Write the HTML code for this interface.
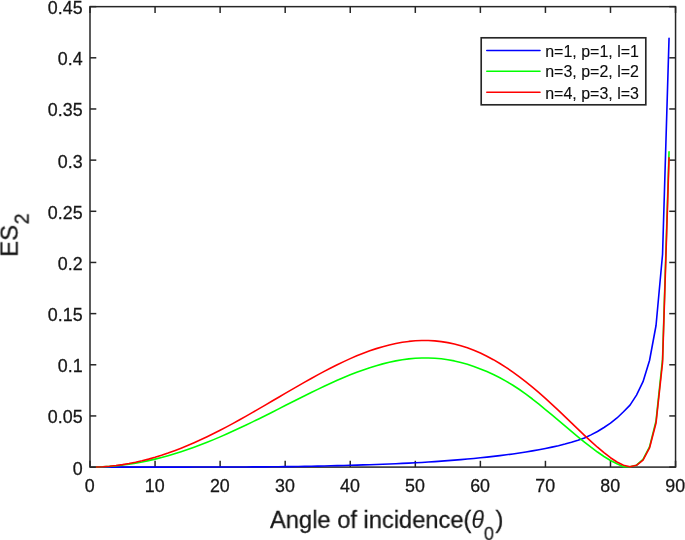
<!DOCTYPE html>
<html><head><meta charset="utf-8"><title>ES2 vs angle of incidence</title>
<style>
html,body{margin:0;padding:0;background:#fff;}
svg{display:block;will-change:transform;}
text{font-family:"Liberation Sans",Arial,Helvetica,sans-serif;fill:#161616;stroke:#161616;stroke-width:0.28px;}
.tk{font-size:18.6px;}
.lg{font-size:16.2px;fill:#0a0a0a;stroke:#0a0a0a;stroke-width:0.12px;}
.lbx{font-size:24.4px;}
.lby{font-size:23.7px;}
.sub{font-size:18.7px;}
.suby{font-size:19.4px;}
.it{font-style:italic;font-size:23.6px;stroke-width:0.1px;}
.tx{filter:opacity(1);}
</style></head><body>
<svg width="685" height="540" viewBox="0 0 685 540">
<rect x="0" y="0" width="685" height="540" fill="#ffffff"/>
<g>
<rect x="90.0" y="6.65" width="585.55" height="460.45" fill="none" stroke="#262626" stroke-width="1.5"/>
<line x1="90.00" y1="467.1" x2="90.00" y2="460.8" stroke="#262626" stroke-width="1.5"/>
<line x1="90.00" y1="6.65" x2="90.00" y2="12.95" stroke="#262626" stroke-width="1.5"/>
<line x1="155.06" y1="467.1" x2="155.06" y2="460.8" stroke="#262626" stroke-width="1.5"/>
<line x1="155.06" y1="6.65" x2="155.06" y2="12.95" stroke="#262626" stroke-width="1.5"/>
<line x1="220.12" y1="467.1" x2="220.12" y2="460.8" stroke="#262626" stroke-width="1.5"/>
<line x1="220.12" y1="6.65" x2="220.12" y2="12.95" stroke="#262626" stroke-width="1.5"/>
<line x1="285.18" y1="467.1" x2="285.18" y2="460.8" stroke="#262626" stroke-width="1.5"/>
<line x1="285.18" y1="6.65" x2="285.18" y2="12.95" stroke="#262626" stroke-width="1.5"/>
<line x1="350.24" y1="467.1" x2="350.24" y2="460.8" stroke="#262626" stroke-width="1.5"/>
<line x1="350.24" y1="6.65" x2="350.24" y2="12.95" stroke="#262626" stroke-width="1.5"/>
<line x1="415.31" y1="467.1" x2="415.31" y2="460.8" stroke="#262626" stroke-width="1.5"/>
<line x1="415.31" y1="6.65" x2="415.31" y2="12.95" stroke="#262626" stroke-width="1.5"/>
<line x1="480.37" y1="467.1" x2="480.37" y2="460.8" stroke="#262626" stroke-width="1.5"/>
<line x1="480.37" y1="6.65" x2="480.37" y2="12.95" stroke="#262626" stroke-width="1.5"/>
<line x1="545.43" y1="467.1" x2="545.43" y2="460.8" stroke="#262626" stroke-width="1.5"/>
<line x1="545.43" y1="6.65" x2="545.43" y2="12.95" stroke="#262626" stroke-width="1.5"/>
<line x1="610.49" y1="467.1" x2="610.49" y2="460.8" stroke="#262626" stroke-width="1.5"/>
<line x1="610.49" y1="6.65" x2="610.49" y2="12.95" stroke="#262626" stroke-width="1.5"/>
<line x1="675.55" y1="467.1" x2="675.55" y2="460.8" stroke="#262626" stroke-width="1.5"/>
<line x1="675.55" y1="6.65" x2="675.55" y2="12.95" stroke="#262626" stroke-width="1.5"/>
<line x1="90.0" y1="467.10" x2="96.3" y2="467.10" stroke="#262626" stroke-width="1.5"/>
<line x1="675.55" y1="467.10" x2="669.25" y2="467.10" stroke="#262626" stroke-width="1.5"/>
<line x1="90.0" y1="415.94" x2="96.3" y2="415.94" stroke="#262626" stroke-width="1.5"/>
<line x1="675.55" y1="415.94" x2="669.25" y2="415.94" stroke="#262626" stroke-width="1.5"/>
<line x1="90.0" y1="364.78" x2="96.3" y2="364.78" stroke="#262626" stroke-width="1.5"/>
<line x1="675.55" y1="364.78" x2="669.25" y2="364.78" stroke="#262626" stroke-width="1.5"/>
<line x1="90.0" y1="313.62" x2="96.3" y2="313.62" stroke="#262626" stroke-width="1.5"/>
<line x1="675.55" y1="313.62" x2="669.25" y2="313.62" stroke="#262626" stroke-width="1.5"/>
<line x1="90.0" y1="262.46" x2="96.3" y2="262.46" stroke="#262626" stroke-width="1.5"/>
<line x1="675.55" y1="262.46" x2="669.25" y2="262.46" stroke="#262626" stroke-width="1.5"/>
<line x1="90.0" y1="211.29" x2="96.3" y2="211.29" stroke="#262626" stroke-width="1.5"/>
<line x1="675.55" y1="211.29" x2="669.25" y2="211.29" stroke="#262626" stroke-width="1.5"/>
<line x1="90.0" y1="160.13" x2="96.3" y2="160.13" stroke="#262626" stroke-width="1.5"/>
<line x1="675.55" y1="160.13" x2="669.25" y2="160.13" stroke="#262626" stroke-width="1.5"/>
<line x1="90.0" y1="108.97" x2="96.3" y2="108.97" stroke="#262626" stroke-width="1.5"/>
<line x1="675.55" y1="108.97" x2="669.25" y2="108.97" stroke="#262626" stroke-width="1.5"/>
<line x1="90.0" y1="57.81" x2="96.3" y2="57.81" stroke="#262626" stroke-width="1.5"/>
<line x1="675.55" y1="57.81" x2="669.25" y2="57.81" stroke="#262626" stroke-width="1.5"/>
<line x1="90.0" y1="6.65" x2="96.3" y2="6.65" stroke="#262626" stroke-width="1.5"/>
<line x1="675.55" y1="6.65" x2="669.25" y2="6.65" stroke="#262626" stroke-width="1.5"/>
<polyline points="96.51,467.10 103.01,467.10 109.52,467.10 116.02,467.10 122.53,467.10 129.04,467.10 135.54,467.10 142.05,467.10 148.56,467.10 155.06,467.10 161.57,467.09 168.07,467.09 174.58,467.09 181.09,467.08 187.59,467.08 194.10,467.07 200.60,467.06 207.11,467.06 213.62,467.05 220.12,467.04 226.63,467.02 233.13,467.00 239.64,466.98 246.15,466.95 252.65,466.91 259.16,466.87 265.66,466.83 272.17,466.78 278.68,466.72 285.18,466.67 291.69,466.60 298.20,466.51 304.70,466.40 311.21,466.27 317.71,466.13 324.22,465.98 330.73,465.81 337.23,465.64 343.74,465.47 350.24,465.29 356.75,465.10 363.26,464.91 369.76,464.70 376.27,464.47 382.77,464.23 389.28,463.98 395.79,463.71 402.29,463.42 408.80,463.11 415.31,462.78 421.81,462.43 428.32,462.04 434.82,461.61 441.33,461.16 447.84,460.67 454.34,460.15 460.85,459.61 467.35,459.03 473.86,458.43 480.37,457.80 486.87,457.13 493.38,456.41 499.88,455.64 506.39,454.81 512.90,453.92 519.40,452.97 525.91,451.95 532.42,450.86 538.92,449.70 545.43,448.46 551.93,447.12 558.44,445.67 564.95,444.06 571.45,442.28 577.96,440.27 584.46,437.99 590.97,434.87 597.48,431.49 603.98,427.50 610.49,423.20 617.00,417.99 623.50,411.74 630.01,405.09 636.51,395.07 643.02,381.66 649.53,360.48 656.03,325.49 662.54,254.47 669.04,38.27" fill="none" stroke="#0000ff" stroke-width="1.6" stroke-linejoin="round" stroke-linecap="round"/>
<polyline points="96.51,467.02 103.01,466.78 109.52,466.37 116.02,465.81 122.53,465.08 129.04,464.20 135.54,463.16 142.05,461.97 148.56,460.63 155.06,459.14 161.57,457.50 168.07,455.72 174.58,453.80 181.09,451.74 187.59,449.56 194.10,447.25 200.60,444.82 207.11,442.28 213.62,439.63 220.12,436.88 226.63,434.03 233.13,431.10 239.64,428.09 246.15,425.01 252.65,421.87 259.16,418.68 265.66,415.44 272.17,412.17 278.68,408.88 285.18,405.58 291.69,402.29 298.20,399.00 304.70,395.75 311.21,392.53 317.71,389.37 324.22,386.27 330.73,383.26 337.23,380.34 343.74,377.53 350.24,374.85 356.75,372.31 363.26,369.93 369.76,367.71 376.27,365.69 382.77,363.86 389.28,362.26 395.79,360.88 402.29,359.75 408.80,358.87 415.31,358.27 421.81,357.95 428.32,357.93 434.82,358.20 441.33,358.79 447.84,359.69 454.34,360.91 460.85,362.45 467.35,364.30 473.86,366.46 480.37,368.89 486.87,371.60 493.38,374.57 499.88,377.81 506.39,381.36 512.90,385.24 519.40,389.48 525.91,394.08 532.42,399.01 538.92,404.18 545.43,409.53 551.93,414.98 558.44,420.47 564.95,425.96 571.45,431.43 577.96,436.82 584.46,442.10 590.97,447.19 597.48,452.03 603.98,456.50 610.49,460.47 617.00,463.76 623.50,466.69 630.01,466.79 636.51,465.16 643.02,459.43 649.53,446.84 656.03,420.85 662.54,359.15 669.04,151.85" fill="none" stroke="#00ff00" stroke-width="1.6" stroke-linejoin="round" stroke-linecap="round"/>
<polyline points="96.51,467.00 103.01,466.70 109.52,466.20 116.02,465.50 122.53,464.61 129.04,463.52 135.54,462.24 142.05,460.77 148.56,459.12 155.06,457.29 161.57,455.28 168.07,453.10 174.58,450.75 181.09,448.25 187.59,445.59 194.10,442.79 200.60,439.85 207.11,436.78 213.62,433.59 220.12,430.28 226.63,426.88 233.13,423.38 239.64,419.80 246.15,416.14 252.65,412.43 259.16,408.67 265.66,404.88 272.17,401.06 278.68,397.24 285.18,393.41 291.69,389.61 298.20,385.84 304.70,382.11 311.21,378.45 317.71,374.87 324.22,371.37 330.73,367.99 337.23,364.73 343.74,361.60 350.24,358.64 356.75,355.84 363.26,353.23 369.76,350.82 376.27,348.63 382.77,346.67 389.28,344.95 395.79,343.49 402.29,342.31 408.80,341.42 415.31,340.82 421.81,340.53 428.32,340.55 434.82,340.91 441.33,341.60 447.84,342.63 454.34,344.01 460.85,345.74 467.35,347.83 473.86,350.26 480.37,353.05 486.87,356.19 493.38,359.67 499.88,363.48 506.39,367.62 512.90,372.08 519.40,376.83 525.91,381.86 532.42,387.16 538.92,392.69 545.43,398.44 551.93,404.37 558.44,410.44 564.95,416.63 571.45,422.87 577.96,429.13 584.46,435.32 590.97,441.39 597.48,447.23 603.98,452.73 610.49,457.73 617.00,462.00 623.50,465.24 630.01,466.79 636.51,465.26 643.02,460.04 649.53,447.97 656.03,423.00 662.54,362.73 669.04,157.78" fill="none" stroke="#ff0000" stroke-width="1.6" stroke-linejoin="round" stroke-linecap="round"/>
<rect x="481.2" y="37.8" width="164.6" height="67.0" fill="#fff" stroke="#262626" stroke-width="1.65"/>
<line x1="486.8" y1="50.50" x2="540.0" y2="50.50" stroke="#0000ff" stroke-width="1.6" stroke-linecap="round"/>
<line x1="486.8" y1="71.20" x2="540.0" y2="71.20" stroke="#00ff00" stroke-width="1.6" stroke-linecap="round"/>
<line x1="486.8" y1="92.20" x2="540.0" y2="92.20" stroke="#ff0000" stroke-width="1.6" stroke-linecap="round"/>
</g>
<g class="tx">
<text transform="translate(89.70,492.30) scale(0.96,1)" text-anchor="middle" class="tk">0</text>
<text transform="translate(154.76,492.30) scale(0.96,1)" text-anchor="middle" class="tk">10</text>
<text transform="translate(219.82,492.30) scale(0.96,1)" text-anchor="middle" class="tk">20</text>
<text transform="translate(284.88,492.30) scale(0.96,1)" text-anchor="middle" class="tk">30</text>
<text transform="translate(349.94,492.30) scale(0.96,1)" text-anchor="middle" class="tk">40</text>
<text transform="translate(415.01,492.30) scale(0.96,1)" text-anchor="middle" class="tk">50</text>
<text transform="translate(480.07,492.30) scale(0.96,1)" text-anchor="middle" class="tk">60</text>
<text transform="translate(545.13,492.30) scale(0.96,1)" text-anchor="middle" class="tk">70</text>
<text transform="translate(610.19,492.30) scale(0.96,1)" text-anchor="middle" class="tk">80</text>
<text transform="translate(675.25,492.30) scale(0.96,1)" text-anchor="middle" class="tk">90</text>
<text transform="translate(82.60,474.60) scale(0.96,1)" text-anchor="end" class="tk">0</text>
<text transform="translate(82.60,423.44) scale(0.96,1)" text-anchor="end" class="tk">0.05</text>
<text transform="translate(82.60,372.28) scale(0.96,1)" text-anchor="end" class="tk">0.1</text>
<text transform="translate(82.60,321.12) scale(0.96,1)" text-anchor="end" class="tk">0.15</text>
<text transform="translate(82.60,269.96) scale(0.96,1)" text-anchor="end" class="tk">0.2</text>
<text transform="translate(82.60,218.79) scale(0.96,1)" text-anchor="end" class="tk">0.25</text>
<text transform="translate(82.60,167.63) scale(0.96,1)" text-anchor="end" class="tk">0.3</text>
<text transform="translate(82.60,116.47) scale(0.96,1)" text-anchor="end" class="tk">0.35</text>
<text transform="translate(82.60,65.31) scale(0.96,1)" text-anchor="end" class="tk">0.4</text>
<text transform="translate(82.60,14.15) scale(0.96,1)" text-anchor="end" class="tk">0.45</text>
<text transform="translate(545.20,56.80) scale(0.987,1)" text-anchor="start" class="lg">n=1, p=1, l=1</text>
<text transform="translate(545.20,77.10) scale(0.987,1)" text-anchor="start" class="lg">n=3, p=2, l=2</text>
<text transform="translate(545.20,98.80) scale(0.987,1)" text-anchor="start" class="lg">n=4, p=3, l=3</text>
<text transform="translate(270.00,527.90) scale(0.971,1)" text-anchor="start" class="lbx">Angle of incidence(<tspan class="it">θ</tspan><tspan class="sub" dy="11.9">0</tspan><tspan dy="-11.9" dx="1.6">)</tspan></text>
<text transform="translate(17.60,256.80) rotate(-90) scale(1.01,1)" text-anchor="start" class="lby">ES<tspan class="suby" dy="11.4" dx="0.5">2</tspan></text>
</g>
</svg>
</body></html>
